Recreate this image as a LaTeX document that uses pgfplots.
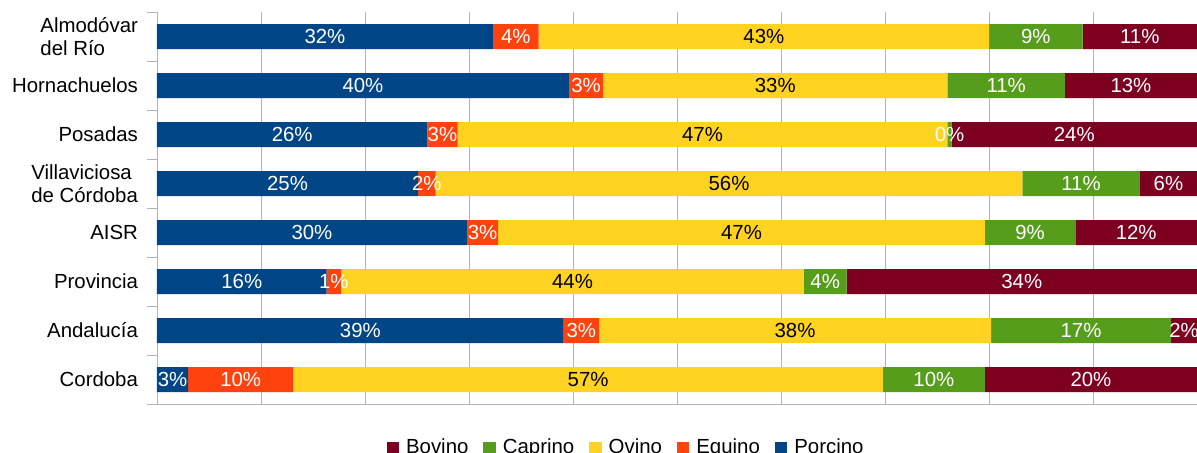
\documentclass[border=0pt]{standalone}
\usepackage{fontspec}
\setmainfont{Liberation Sans}
\usepackage{pgfplots}
\usepackage{pgfplotstable}
\pgfplotsset{compat=1.18}
\definecolor{porcino}{HTML}{004586}
\definecolor{equino}{HTML}{FF420E}
\definecolor{ovino}{HTML}{FFD320}
\definecolor{caprino}{HTML}{579D1C}
\definecolor{bovino}{HTML}{7E0021}
\definecolor{gridgray}{HTML}{B3B3B3}

% y: 0 = Cordoba ... 7 = Almodovar del Rio
% p=Porcino e=Equino o=Ovino c=Caprino b=Bovino (share, %), l* = printed label
\pgfplotstableread{
y p    e    o    c    b    lp lE lo lc lb
0 3.0  10.1 56.7 9.8  20.4 3  10 57 10 20
1 39.1 3.4  37.7 17.3 2.5  39 3  38 17 2
2 16.3 1.4  44.5 4.1  33.7 16 1  44 4  34
3 29.8 3.0  46.8 8.7  11.7 30 3  47 9  12
4 25.1 1.7  56.4 11.3 5.5  25 2  56 11 6
5 26.0 2.9  47.1 0.4  23.6 26 3  47 0  24
6 39.6 3.3  33.1 11.3 12.7 40 3  33 11 13
7 32.3 4.4  43.3 9.0  11.0 32 4  43 9  11
}\shares

\pgfplotsset{
  base/.style={at={(0,0)},anchor=south west,scale only axis,width=520pt,height=196pt,
    font=\fontsize{10.2}{11.5}\selectfont,
    xmin=0,xmax=100,ymin=-0.5,ymax=7.5},
  lbl/.style={draw=none,mark=none,point meta=explicit symbolic,
    nodes near coords={\pgfplotspointmeta\%},
    every node near coord/.append style={anchor=center,#1,
      font=\fontsize{10.2}{11.5}\selectfont}},
}

\begin{document}
\begin{tikzpicture}
\useasboundingbox (-78.5pt,-24pt) rectangle (520pt,202pt);
\clip (-78.5pt,-24pt) rectangle (520pt,202pt);
\begin{axis}[base,
  xbar stacked,bar width=0.51,
  axis x line*=bottom,axis y line*=left,axis line style={gridgray,-},
  xtick={0,10,...,100},xticklabels={},xmajorgrids,
  major grid style={gridgray},
  ytick={0,...,7},
  yticklabels={Cordoba,Andalucía,Provincia,AISR,{Villaviciosa\\de Córdoba},Posadas,Hornachuelos,{Almodóvar\\del Río}},
  yticklabel style={align=left,xshift=-6pt},
  minor ytick={-0.5,0.5,...,7.5},
  tick align=outside,major tick length=0pt,minor tick length=5pt,
  minor tick style={gridgray},
  legend columns=-1,reverse legend,
  legend style={at={(0.452,-0.112)},anchor=center,draw=none,fill=none,
    /tikz/every odd column/.append style={column sep=1.5pt},
    /tikz/every even column/.append style={column sep=5.5pt}},
  legend image code/.code={\fill[#1] (0pt,-3.1pt) rectangle (6.2pt,3.1pt);},
]
\addplot[fill=porcino,draw=none] table[x=p,y=y] {\shares};
\addplot[fill=equino,draw=none] table[x=e,y=y] {\shares};
\addplot[fill=ovino,draw=none] table[x=o,y=y] {\shares};
\addplot[fill=caprino,draw=none] table[x=c,y=y] {\shares};
\addplot[fill=bovino,draw=none] table[x=b,y=y] {\shares};
\legend{Porcino,Equino,Ovino,Caprino,Bovino}
\end{axis}
% segment labels, centred in each segment
\begin{axis}[base,hide axis]
\addplot[lbl=white] table[x expr={\thisrow{p}/2},y=y,meta=lp] {\shares};
\addplot[lbl=white] table[x expr={\thisrow{p}+\thisrow{e}/2},y=y,meta=lE] {\shares};
\addplot[lbl=black] table[x expr={\thisrow{p}+\thisrow{e}+\thisrow{o}/2},y=y,meta=lo] {\shares};
\addplot[lbl=white] table[x expr={\thisrow{p}+\thisrow{e}+\thisrow{o}+\thisrow{c}/2},y=y,meta=lc] {\shares};
\addplot[lbl=white] table[x expr={\thisrow{p}+\thisrow{e}+\thisrow{o}+\thisrow{c}+\thisrow{b}/2},y=y,meta=lb] {\shares};
\end{axis}
\end{tikzpicture}
\end{document}
